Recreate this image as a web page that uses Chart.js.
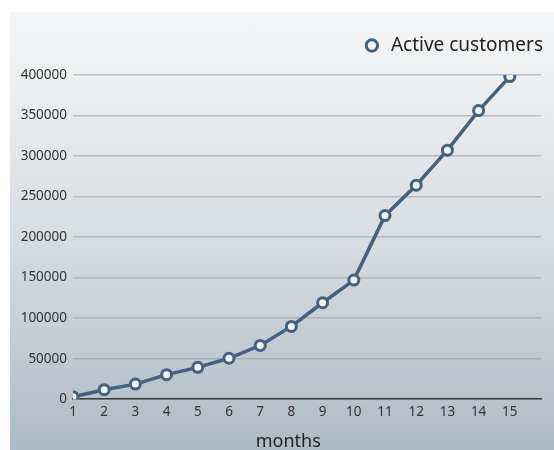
<!DOCTYPE html>
<html>
<head>
<meta charset="utf-8">
<script src="https://cdn.jsdelivr.net/npm/chart.js@4"></script>
<style>
  html, body { margin: 0; padding: 0; background: #fff; overflow: hidden; }
  body { width: 554px; height: 450px; position: relative; }
  #bg {
    position: absolute; left: 10px; top: 12px; width: 544px; height: 438px;
    background: linear-gradient(to bottom, #f5f6f7 0%, #d9dee2 50%, #abbbc6 100%);
  }
  #wrap { position: absolute; left: 10px; top: 12px; width: 544px; height: 446px; }
</style>
</head>
<body>
<div id="bg"></div>
<div id="wrap"><canvas id="chart"></canvas></div>
<script>
// ----------------------------
// Dados
// ----------------------------
const months = [1, 2, 3, 4, 5, 6, 7, 8, 9, 10, 11, 12, 13, 14, 15];
const activeCustomers = [3000, 11700, 18600, 30300, 39300, 50500, 66300, 89800, 119000, 147000, 226500, 264000, 307300, 356100, 398000];
const yTicks = [0, 50000, 100000, 150000, 200000, 250000, 300000, 350000, 400000];

const lineColor = "#44627f";
const fontFamily = "'Noto Sans', sans-serif";

// legenda um pouco mais alta para empurrar a area do grafico
const legendSpacer = {
  id: "legendSpacer",
  beforeInit(chart) {
    const fit = chart.legend.fit;
    chart.legend.fit = function () {
      fit.bind(chart.legend)();
      this.height += 10;
    };
  }
};

new Chart(document.getElementById("chart"), {
  type: "line",
  data: {
    datasets: [{
      label: "Active customers",
      data: months.map((m, i) => ({ x: m, y: activeCustomers[i] })),
      borderColor: lineColor,
      borderWidth: 3.5,
      pointRadius: 5,
      pointBorderWidth: 3,
      pointBackgroundColor: "#f2f4f6",
      pointBorderColor: lineColor,
      tension: 0
    }]
  },
  options: {
    responsive: true,
    maintainAspectRatio: false,
    animation: false,
    layout: { padding: { top: 14, right: 1, left: 0, bottom: 0 } },
    plugins: {
      legend: {
        position: "top",
        align: "end",
        labels: {
          usePointStyle: true,
          pointStyle: "circle",
          boxWidth: 19,
          boxHeight: 8,
          color: "#222",
          font: { family: fontFamily, size: 19 }
        }
      },
      tooltip: { enabled: false }
    },
    scales: {
      x: {
        type: "linear",
        min: 1,
        max: 16,
        afterFit(scale) { scale.paddingRight = 13; },
        grid: { display: false, drawTicks: false },
        border: { display: true, color: "#3a3a3a", width: 1.5 },
        ticks: {
          stepSize: 1,
          autoSkip: false,
          maxRotation: 0,
          padding: 5,
          color: "#333",
          font: { family: fontFamily, size: 13.5 },
          callback: v => (v >= 1 && v <= 15 ? String(v) : "")
        },
        title: {
          display: true,
          text: "months        ",
          color: "#222",
          font: { family: fontFamily, size: 18 },
          padding: { top: 6, bottom: 5 }
        }
      },
      y: {
        min: 0,
        max: 400000,
        afterFit(scale) { scale.width = 63; },
        afterBuildTicks(scale) { scale.ticks = yTicks.map(v => ({ value: v })); },
        grid: { color: "rgba(160,160,160,0.6)", lineWidth: 1.5, drawTicks: false },
        border: { display: false },
        ticks: {
          padding: 6,
          color: "#333",
          font: { family: fontFamily, size: 13.5 },
          callback: v => String(v)
        }
      }
    }
  },
  plugins: [legendSpacer]
});
</script>
</body>
</html>
